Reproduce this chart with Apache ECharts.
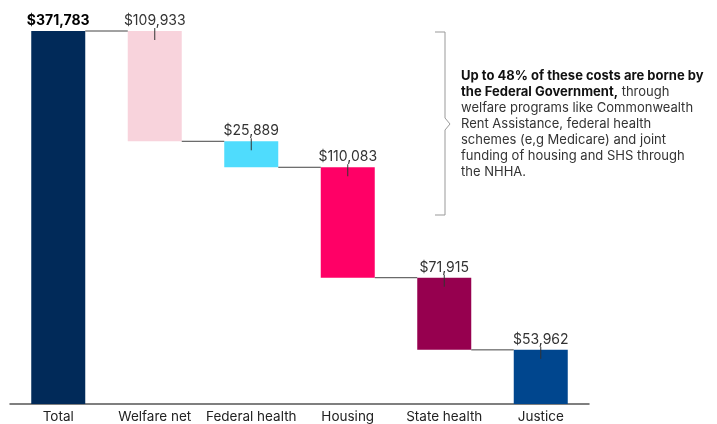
<!DOCTYPE html>
<html>
<head>
<meta charset="utf-8">
<script src="https://cdn.jsdelivr.net/npm/echarts@6/dist/echarts.min.js"></script>
<style>
html, body { margin: 0; padding: 0; background: #fff; }
#main { width: 717px; height: 424px; }
</style>
</head>
<body>
<div id="main"></div>
<script>
var categories = ['Total', 'Welfare net', 'Federal health', 'Housing', 'State health', 'Justice'];
var values = [371783, 109933, 25889, 110083, 71915, 53962];
var colors = ['#012a59', '#f8d3dc', '#4fdcfd', '#ff0066', '#96004f', '#00468e'];

// waterfall: bar tops and invisible bases
var tops = [], bases = [];
var level = values[0];
tops.push(values[0]);
bases.push(0);
for (var i = 1; i < values.length; i++) {
	tops.push(level);
	bases.push(level - values[i]);
	level = level - values[i];
}

function fmt(v) {
	return '$' + v.toLocaleString('en-US');
}

var myChart = echarts.init(document.getElementById('main'));
var barW = 54;
var font = 'Inter';

var option = {
	animation: false,
	textStyle: { fontFamily: font },
	grid: { left: 10, right: 128, top: 31, bottom: 19 },
	xAxis: {
		type: 'category',
		data: categories,
		axisTick: { show: false },
		axisLine: { lineStyle: { color: '#555', width: 1.5 } },
		axisLabel: { color: '#222', fontSize: 13.5, margin: 6, interval: 0, fontFamily: font }
	},
	yAxis: {
		type: 'value',
		min: 0,
		max: values[0],
		show: false,
		splitLine: { show: false }
	},
	series: [
		{
			type: 'bar',
			stack: 'w',
			barWidth: barW,
			itemStyle: { color: 'transparent' },
			data: bases,
			silent: true
		},
		{
			type: 'bar',
			stack: 'w',
			barWidth: barW,
			data: values.map(function (v, i) {
				return {
					value: v,
					itemStyle: { color: colors[i] },
					label: i === 0 ? { fontWeight: 'bold', color: '#000' } : {}
				};
			}),
			label: {
				show: true,
				position: 'top',
				distance: 3,
				fontSize: 14,
				fontFamily: font,
				color: '#333',
				formatter: function (p) { return fmt(p.value); }
			}
		},
		{
			// connectors between bars
			type: 'custom',
			silent: true,
			data: tops.slice(1).map(function (t, i) { return [i, t]; }),
			renderItem: function (params, api) {
				var p = api.coord([api.value(0), api.value(1)]);
				var band = api.size([1, 0])[0];
				return {
					type: 'line',
					shape: { x1: p[0] + barW / 2, y1: p[1], x2: p[0] + band - barW / 2, y2: p[1] },
					style: { stroke: '#444', lineWidth: 1 }
				};
			},
			z: 3
		},
		{
			// small ticks at bar tops
			type: 'custom',
			silent: true,
			data: tops.slice(1).map(function (t, i) { return [i + 1, t]; }),
			renderItem: function (params, api) {
				var p = api.coord([api.value(0), api.value(1)]);
				return {
					type: 'line',
					shape: { x1: p[0], y1: p[1] - 3, x2: p[0], y2: p[1] + 9 },
					style: { stroke: '#333', lineWidth: 1 }
				};
			},
			z: 4
		}
	],
	graphic: [
		{
			type: 'polyline',
			shape: { points: [[435, 32], [445, 32], [445, 118], [450, 124], [445, 130], [445, 215], [435, 215]] },
			style: { stroke: '#999', lineWidth: 1, fill: null }
		},
		{
			type: 'text',
			left: 461,
			top: 68,
			style: {
				text: '{b|Up to 48% of these costs are borne by}\n{b|the Federal Government,} through\nwelfare programs like Commonwealth\nRent Assistance, federal health\nschemes (e,g Medicare) and joint\nfunding of housing and SHS through\nthe NHHA.',
				fontFamily: font,
				fontSize: 13,
				lineHeight: 16,
				fill: '#333',
				rich: {
					b: { fontWeight: 'bold', fill: '#111', fontSize: 13, lineHeight: 16, fontFamily: font }
				}
			}
		}
	]
};
myChart.setOption(option);
</script>
</body>
</html>
